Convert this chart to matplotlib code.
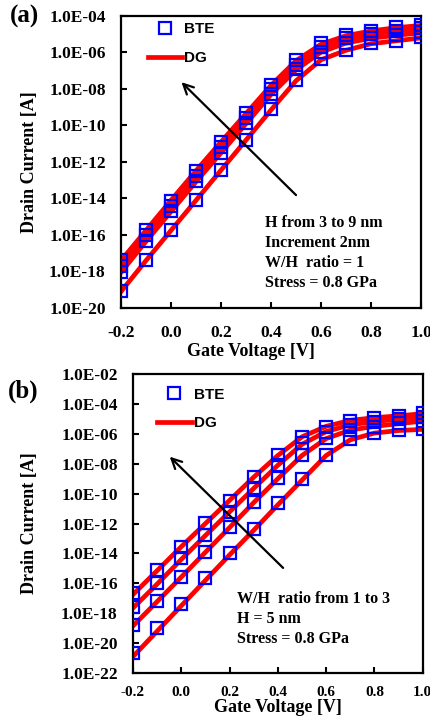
import numpy as np
import matplotlib
matplotlib.use("Agg")
import matplotlib.pyplot as plt
from matplotlib.ticker import FixedLocator, FuncFormatter

plt.rcParams['font.family'] = ['Liberation Serif', 'DejaVu Serif']
plt.rcParams['font.weight'] = 'bold'
plt.rcParams['axes.labelweight'] = 'bold'

# gate voltage grid [V]
vg = [-0.2, -0.1, 0.0, 0.1, 0.2, 0.3, 0.4, 0.5, 0.6, 0.7, 0.8, 0.9, 1.0]

# (a) H = 9, 7, 5, 3 nm  -- log10 of drain current [A]
a_bte = [
    [-17.37, -15.73, -14.12, -12.50, -10.89, -9.33, -7.78, -6.41, -5.50, -5.04, -4.80, -4.62, -4.49],
    [-17.70, -16.00, -14.43, -12.78, -11.17, -9.61, -8.02, -6.68, -5.68, -5.22, -5.00, -4.80, -4.67],
    [-18.01, -16.31, -14.70, -13.05, -11.49, -9.88, -8.27, -6.92, -5.96, -5.46, -5.22, -5.04, -4.89],
    [-19.05, -17.37, -15.73, -14.08, -12.42, -10.77, -9.11, -7.51, -6.37, -5.86, -5.50, -5.35, -5.17],
]
a_dg = [
    [-17.40, -15.75, -14.10, -12.48, -10.90, -9.35, -7.80, -6.45, -5.55, -5.08, -4.82, -4.64, -4.52],
    [-17.72, -16.05, -14.42, -12.80, -11.20, -9.62, -8.05, -6.70, -5.72, -5.25, -5.00, -4.82, -4.70],
    [-18.05, -16.35, -14.72, -13.08, -11.50, -9.90, -8.30, -6.95, -5.98, -5.48, -5.22, -5.06, -4.92],
    [-19.10, -17.40, -15.75, -14.10, -12.45, -10.80, -9.15, -7.55, -6.40, -5.88, -5.52, -5.36, -5.20],
]

# (b) W/H = 3 ... 1, H = 5 nm
b_bte = [
    [-16.67, -15.11, -13.55, -11.99, -10.47, -8.87, -7.42, -6.19, -5.52, -5.12, -4.96, -4.81, -4.63],
    [-17.56, -16.00, -14.33, -12.77, -11.21, -9.65, -8.09, -6.64, -5.86, -5.41, -5.19, -5.03, -4.90],
    [-18.79, -17.18, -15.56, -13.89, -12.25, -10.54, -8.98, -7.42, -6.30, -5.75, -5.52, -5.30, -5.12],
    [-20.64, -19.01, -17.38, -15.67, -14.00, -12.39, -10.65, -9.04, -7.42, -6.37, -5.93, -5.75, -5.68],
]
b_dg = [
    [-16.75, -15.15, -13.55, -12.00, -10.45, -8.90, -7.45, -6.20, -5.50, -5.10, -4.92, -4.80, -4.65],
    [-17.65, -16.05, -14.40, -12.80, -11.22, -9.65, -8.10, -6.70, -5.85, -5.40, -5.18, -5.02, -4.90],
    [-18.85, -17.22, -15.58, -13.92, -12.27, -10.60, -9.00, -7.45, -6.32, -5.75, -5.50, -5.32, -5.15],
    [-20.90, -19.20, -17.50, -15.80, -14.10, -12.45, -10.75, -9.10, -7.45, -6.40, -5.95, -5.78, -5.70],
]

xticks = [-0.2, 0.0, 0.2, 0.4, 0.6, 0.8, 1.0]

fig = plt.figure(figsize=(4.3, 7.24), dpi=100)
ax1 = fig.add_axes([0.2814, 0.5746, 0.6977, 0.4033])
ax2 = fig.add_axes([0.3093, 0.0704, 0.6737, 0.4130])

sci = FuncFormatter(lambda v, p: f"{v:.1E}")


def draw_panel(ax, bte, dg, ylo, yhi, xfs, xpad, ypad):
    for k in range(len(bte)):
        ax.plot(vg, 10.0 ** np.array(dg[k]), color='#ff0000', lw=3.4, zorder=2,
                label='DG' if k == 0 else None)
        ax.plot(vg, 10.0 ** np.array(bte[k]), ls='none', marker='s', ms=8.5,
                mfc='none', mec='#0000ff', mew=1.6, zorder=3,
                label='BTE' if k == 0 else None)
    ax.set_yscale('log')
    ax.set_xlim(-0.2, 1.0)
    ax.set_ylim(10.0 ** ylo, 10.0 ** yhi)
    ax.yaxis.set_major_locator(FixedLocator([10.0 ** e for e in range(ylo, yhi + 1, 2)]))
    ax.yaxis.set_minor_locator(FixedLocator([]))
    ax.yaxis.set_major_formatter(sci)
    ax.set_xticks(xticks)
    ax.set_xticklabels([f"{t:.1f}" for t in xticks])
    ax.tick_params(axis='x', direction='in', length=4, width=1.5, labelsize=xfs, pad=xpad)
    ax.tick_params(axis='y', direction='in', length=4, width=1.5, labelsize=12.5, pad=ypad)
    for s in ax.spines.values():
        s.set_linewidth(1.6)
    h, l = ax.get_legend_handles_labels()
    return h, l


h, l = draw_panel(ax1, a_bte, a_dg, -20, -4, 12.5, 12, 11)
ax1.legend([h[1], h[0]], ['BTE', 'DG'], frameon=False, loc='upper left',
           bbox_to_anchor=(0.045, 1.025), handlelength=2.2, handletextpad=0.15,
           labelspacing=0.95, prop={'family': 'Liberation Sans', 'weight': 'bold', 'size': 11})
ax1.set_xlabel('Gate Voltage [V]', fontsize=13)
ax1.xaxis.set_label_coords(0.433, -0.12)
ax1.set_ylabel('Drain Current [A]', fontsize=13)
ax1.yaxis.set_label_coords(-0.277, 0.5)
ax1.annotate('', xy=(0.195, 0.78), xytext=(0.59, 0.38), xycoords='axes fraction',
             arrowprops=dict(arrowstyle='->', lw=1.6, color='black', mutation_scale=18))
ax1.text(0.48, 0.32, 'H from 3 to 9 nm\nIncrement 2nm\nW/H  ratio = 1\nStress = 0.8 GPa',
         transform=ax1.transAxes, fontsize=11.5, va='top', ha='left', linespacing=1.35)

h, l = draw_panel(ax2, b_bte, b_dg, -22, -2, 11, 9, 11)
ax2.legend([h[1], h[0]], ['BTE', 'DG'], frameon=False, loc='upper left',
           bbox_to_anchor=(0.035, 1.0), handlelength=2.3, handletextpad=0.15,
           labelspacing=0.95, prop={'family': 'Liberation Sans', 'weight': 'bold', 'size': 11})
ax2.set_xlabel('Gate Voltage [V]', fontsize=13)
ax2.xaxis.set_label_coords(0.5, -0.088)
ax2.set_ylabel('Drain Current [A]', fontsize=13)
ax2.yaxis.set_label_coords(-0.328, 0.5)
ax2.annotate('', xy=(0.12, 0.73), xytext=(0.525, 0.345), xycoords='axes fraction',
             arrowprops=dict(arrowstyle='->', lw=1.6, color='black', mutation_scale=18))
ax2.text(0.36, 0.275, 'W/H  ratio from 1 to 3\nH = 5 nm\nStress = 0.8 GPa',
         transform=ax2.transAxes, fontsize=11.5, va='top', ha='left', linespacing=1.35)

fig.text(0.058, 0.977, '(a)', fontsize=18, ha='center', va='center')
fig.text(0.055, 0.46, '(b)', fontsize=18, ha='center', va='center')

fig.savefig('out.png', dpi=100)
